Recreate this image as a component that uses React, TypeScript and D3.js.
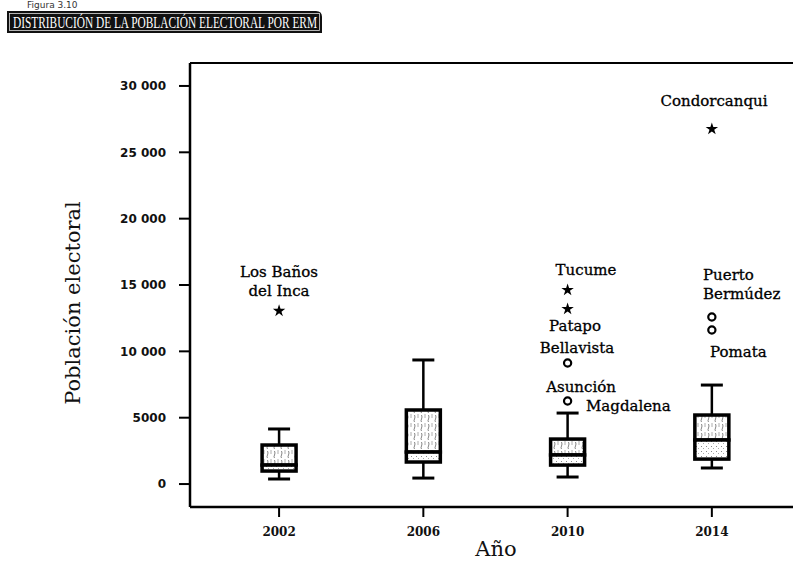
import React from "react";
import * as d3 from "d3";

const years = [2002, 2006, 2010, 2014];
const whiskerLow = [380, 450, 530, 1210];
const q1 = [980, 1660, 1430, 1880];
const median = [1430, 2410, 2190, 3320];
const q3 = [2940, 5580, 3390, 5200];
const whiskerHigh = [4150, 9350, 5350, 7460];

const outlierYears = [2002, 2010, 2010, 2010, 2010, 2014, 2014, 2014];
const outlierValues = [13050, 14620, 13190, 9120, 6260, 26760, 12590, 11610];
const outlierKinds = ["star", "star", "star", "circle", "circle", "star", "circle", "circle"];

const yTicks = [0, 5000, 10000, 15000, 20000, 25000, 30000];

// annotation labels (text, anchor point in pixels)
const labels: { lines: string[]; x: number; y: number; anchor: string }[] = [
  { lines: ["Los Baños", "del Inca"], x: 279, y: 277, anchor: "middle" },
  { lines: ["Tucume"], x: 586, y: 275, anchor: "middle" },
  { lines: ["Patapo"], x: 575, y: 331, anchor: "middle" },
  { lines: ["Bellavista"], x: 577, y: 353, anchor: "middle" },
  { lines: ["Asunción"], x: 581, y: 392, anchor: "middle" },
  { lines: ["Magdalena"], x: 586, y: 411, anchor: "start" },
  { lines: ["Condorcanqui"], x: 714, y: 106, anchor: "middle" },
  { lines: ["Puerto", "Bermúdez"], x: 703, y: 280, anchor: "start" },
  { lines: ["Pomata"], x: 710, y: 357, anchor: "start" },
];

const fmt = (v: number) => (v >= 10000 ? d3.format(",")(v).replace(",", " ") : String(v));

export default function App() {
  const W = 793;
  const H = 561;
  const left = 190;
  const top = 63;
  const bottom = 507;
  const x = d3.scaleLinear().domain([1999.53, 2016.25]).range([left, W]);
  const y = d3.scaleLinear().domain([-1730, 31730]).range([bottom, top]);
  const boxW = 34;
  const capW = 22;
  const serif = "DejaVu Serif, serif";
  const star = d3.symbol().type(d3.symbolStar).size(48)() as string;

  return (
    <div style={{ position: "absolute", left: 0, top: 0 }}>
      <svg width={W} height={H} style={{ display: "block", background: "#fff" }}>
        <defs>
          <pattern id="tex" width="7" height="9" patternUnits="userSpaceOnUse">
            <rect width="7" height="9" fill="#fff" />
            <path d="M1.5,1 Q2.5,3 1.5,5 T1.5,8" stroke="#777" strokeWidth="0.9" fill="none" />
            <path d="M5,0 L5,4" stroke="#999" strokeWidth="0.8" />
          </pattern>
          <pattern id="tex2" width="5" height="5" patternUnits="userSpaceOnUse">
            <rect width="5" height="5" fill="#fff" />
            <rect x="1" y="1" width="1" height="1" fill="#888" />
            <rect x="3" y="3" width="1" height="1" fill="#aaa" />
          </pattern>
        </defs>

        {/* figure caption */}
        <text x={27} y={8} fontFamily="DejaVu Sans, sans-serif" fontSize={9} fill="#333">
          Figura 3.10
        </text>
        {/* title banner */}
        <path d="M7,11 L316,11 Q322,11 322,17 L322,33 L7,33 Z" fill="#111" />
        <rect x={9.5} y={13.5} width={310} height={17} fill="none" stroke="#ddd" strokeWidth={0.8} />
        <text
          x={13}
          y={28}
          fontFamily="Liberation Serif, serif"
          fontSize={16}
          fill="#fff"
          textLength={304}
          lengthAdjust="spacingAndGlyphs"
        >
          DISTRIBUCIÓN DE LA POBLACIÓN ELECTORAL POR ERM
        </text>

        {/* frame */}
        <line x1={left} x2={W} y1={top} y2={top} stroke="#000" strokeWidth={2} />
        <line x1={left} x2={left} y1={top} y2={bottom} stroke="#000" strokeWidth={2.5} />
        <line x1={left} x2={W} y1={bottom} y2={bottom} stroke="#000" strokeWidth={2.5} />

        {/* y axis */}
        {yTicks.map((t) => (
          <g key={t}>
            <line x1={left - 11} x2={left} y1={y(t)} y2={y(t)} stroke="#000" strokeWidth={2} />
            <text
              x={left - 24}
              y={y(t)}
              dy="0.35em"
              textAnchor="end"
              fontFamily="DejaVu Sans, sans-serif"
              fontWeight="bold"
              fontSize={12}
              fill="#111"
            >
              {fmt(t)}
            </text>
          </g>
        ))}
        <text
          transform={`translate(80,${(top + bottom) / 2 + 18}) rotate(-90)`}
          textAnchor="middle"
          fontFamily={serif}
          fontSize={21}
          fill="#111"
        >
          Población electoral
        </text>

        {/* x axis */}
        {years.map((yr) => (
          <g key={yr}>
            <line x1={x(yr)} x2={x(yr)} y1={bottom} y2={bottom + 10} stroke="#000" strokeWidth={2} />
            <text
              x={x(yr)}
              y={536}
              textAnchor="middle"
              fontFamily={serif}
              fontWeight="bold"
              fontSize={12}
              fill="#111"
            >
              {yr}
            </text>
          </g>
        ))}
        <text x={496} y={556} textAnchor="middle" fontFamily={serif} fontSize={21} fill="#111">
          Año
        </text>

        {/* boxes */}
        {years.map((yr, i) => {
          const cx = x(yr);
          return (
            <g key={yr}>
              <line x1={cx} x2={cx} y1={y(whiskerHigh[i])} y2={y(q3[i])} stroke="#000" strokeWidth={2.5} />
              <line x1={cx} x2={cx} y1={y(q1[i])} y2={y(whiskerLow[i])} stroke="#000" strokeWidth={2.5} />
              <line x1={cx - capW / 2} x2={cx + capW / 2} y1={y(whiskerHigh[i])} y2={y(whiskerHigh[i])} stroke="#000" strokeWidth={3} />
              <line x1={cx - capW / 2} x2={cx + capW / 2} y1={y(whiskerLow[i])} y2={y(whiskerLow[i])} stroke="#000" strokeWidth={3} />
              <rect
                x={cx - boxW / 2}
                y={y(q3[i])}
                width={boxW}
                height={y(median[i]) - y(q3[i])}
                fill="url(#tex)"
                stroke="#000"
                strokeWidth={3.5}
              />
              <rect
                x={cx - boxW / 2}
                y={y(median[i])}
                width={boxW}
                height={y(q1[i]) - y(median[i])}
                fill="url(#tex2)"
                stroke="#000"
                strokeWidth={3.5}
              />
            </g>
          );
        })}

        {/* outliers */}
        {outlierValues.map((v, i) =>
          outlierKinds[i] === "star" ? (
            <path key={i} d={star} transform={`translate(${x(outlierYears[i])},${y(v)})`} fill="#000" />
          ) : (
            <circle key={i} cx={x(outlierYears[i])} cy={y(v)} r={3.6} fill="#fff" stroke="#000" strokeWidth={2.2} />
          )
        )}

        {/* labels */}
        {labels.map((l, i) => (
          <text
            key={i}
            x={l.x}
            y={l.y}
            textAnchor={l.anchor as any}
            fontFamily={serif}
            fontSize={15}
            fill="#000"
            stroke="#000"
            strokeWidth={0.3}
          >
            {l.lines.map((s, j) => (
              <tspan key={j} x={l.x} dy={j === 0 ? 0 : 19}>
                {s}
              </tspan>
            ))}
          </text>
        ))}
      </svg>
    </div>
  );
}
